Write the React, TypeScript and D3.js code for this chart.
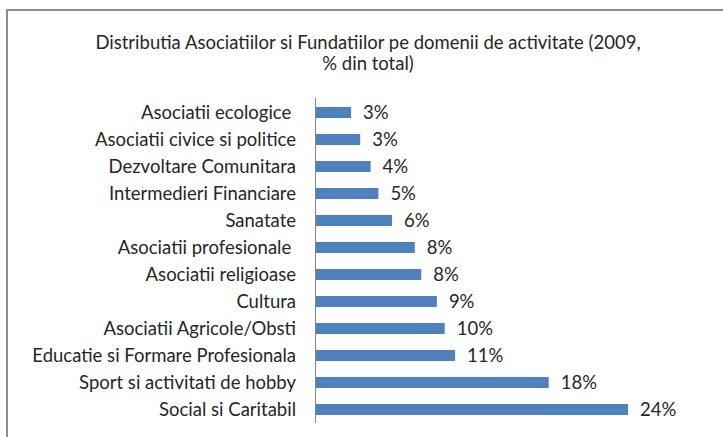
import { useEffect, useRef } from "react";
import { scaleBand, scaleLinear, select } from "d3";

const categories = [
  "Asociatii ecologice ",
  "Asociatii civice si politice",
  "Dezvoltare Comunitara",
  "Intermedieri Financiare",
  "Sanatate",
  "Asociatii profesionale ",
  "Asociatii religioase",
  "Cultura",
  "Asociatii Agricole/Obsti",
  "Educatie si Formare Profesionala",
  "Sport si activitati de hobby",
  "Social si Caritabil",
];

// % din total
const values = [2.7, 3.4, 4.2, 4.8, 5.85, 7.6, 8.1, 9.3, 9.9, 10.7, 17.9, 24.0];

const titleLines = [
  "Distributia Asociatiilor si Fundatiilor pe domenii de activitate (2009,",
  "% din total)",
];

const drawChart = (
  ref: HTMLDivElement,
  size = { w: 723, h: 437 }
) => {
  const canvas = select(ref);
  canvas.selectAll("svg").remove();

  const svg = canvas
    .append("svg")
    .attr("width", size.w)
    .attr("height", size.h)
    .style("position", "absolute")
    .style("left", 0)
    .style("top", 0)
    .style("background", "#fff")
    .style("font-family", "Lato, 'Open Sans', sans-serif");

  // frame (runs off the right and bottom of the picture)
  svg
    .append("rect")
    .attr("x", 7)
    .attr("y", 10)
    .attr("width", size.w + 20)
    .attr("height", size.h + 20)
    .attr("fill", "none")
    .attr("stroke", "#8c8c8c")
    .attr("stroke-width", 2);

  svg
    .append("g")
    .selectAll("text")
    .data(titleLines)
    .join("text")
    .attr("x", 368)
    .attr("y", (d, i) => 49 + i * 21)
    .attr("text-anchor", "middle")
    .attr("font-size", 18.5)
    .attr("fill", "#262626")
    .text((d) => d);

  const y = scaleBand()
    .domain(categories)
    .range([99, 423])
    .paddingInner(0.59)
    .paddingOuter(0.295);

  const x = scaleLinear().domain([0, 24]).range([316, 628]);

  const rows = categories.map((c, i) => ({ name: c, value: values[i] }));

  svg
    .append("g")
    .selectAll("rect")
    .data(rows)
    .join("rect")
    .attr("x", x(0))
    .attr("y", (d) => y(d.name)!)
    .attr("width", (d) => x(d.value) - x(0))
    .attr("height", y.bandwidth())
    .attr("fill", "#4f81bd");

  svg
    .append("line")
    .attr("x1", x(0) - 0.5)
    .attr("x2", x(0) - 0.5)
    .attr("y1", 98)
    .attr("y2", 423)
    .attr("stroke", "#868686")
    .attr("stroke-width", 1);

  svg
    .append("g")
    .selectAll("text")
    .data(rows)
    .join("text")
    .attr("x", 296)
    .attr("y", (d) => y(d.name)! + y.bandwidth() / 2 + 6.5)
    .attr("text-anchor", "end")
    .attr("font-size", 18.5)
    .attr("fill", "#262626")
    .style("white-space", "pre")
    .text((d) => d.name);

  svg
    .append("g")
    .selectAll("text")
    .data(rows)
    .join("text")
    .attr("x", (d) => x(d.value) + 12)
    .attr("y", (d) => y(d.name)! + y.bandwidth() / 2 + 6.5)
    .attr("font-size", 18.5)
    .attr("fill", "#262626")
    .text((d) => `${Math.round(d.value)}%`);
};

export default function App() {
  const ref = useRef<HTMLDivElement>(null);

  useEffect(() => {
    if (ref.current) drawChart(ref.current);
  }, []);

  return <div ref={ref}></div>;
}
